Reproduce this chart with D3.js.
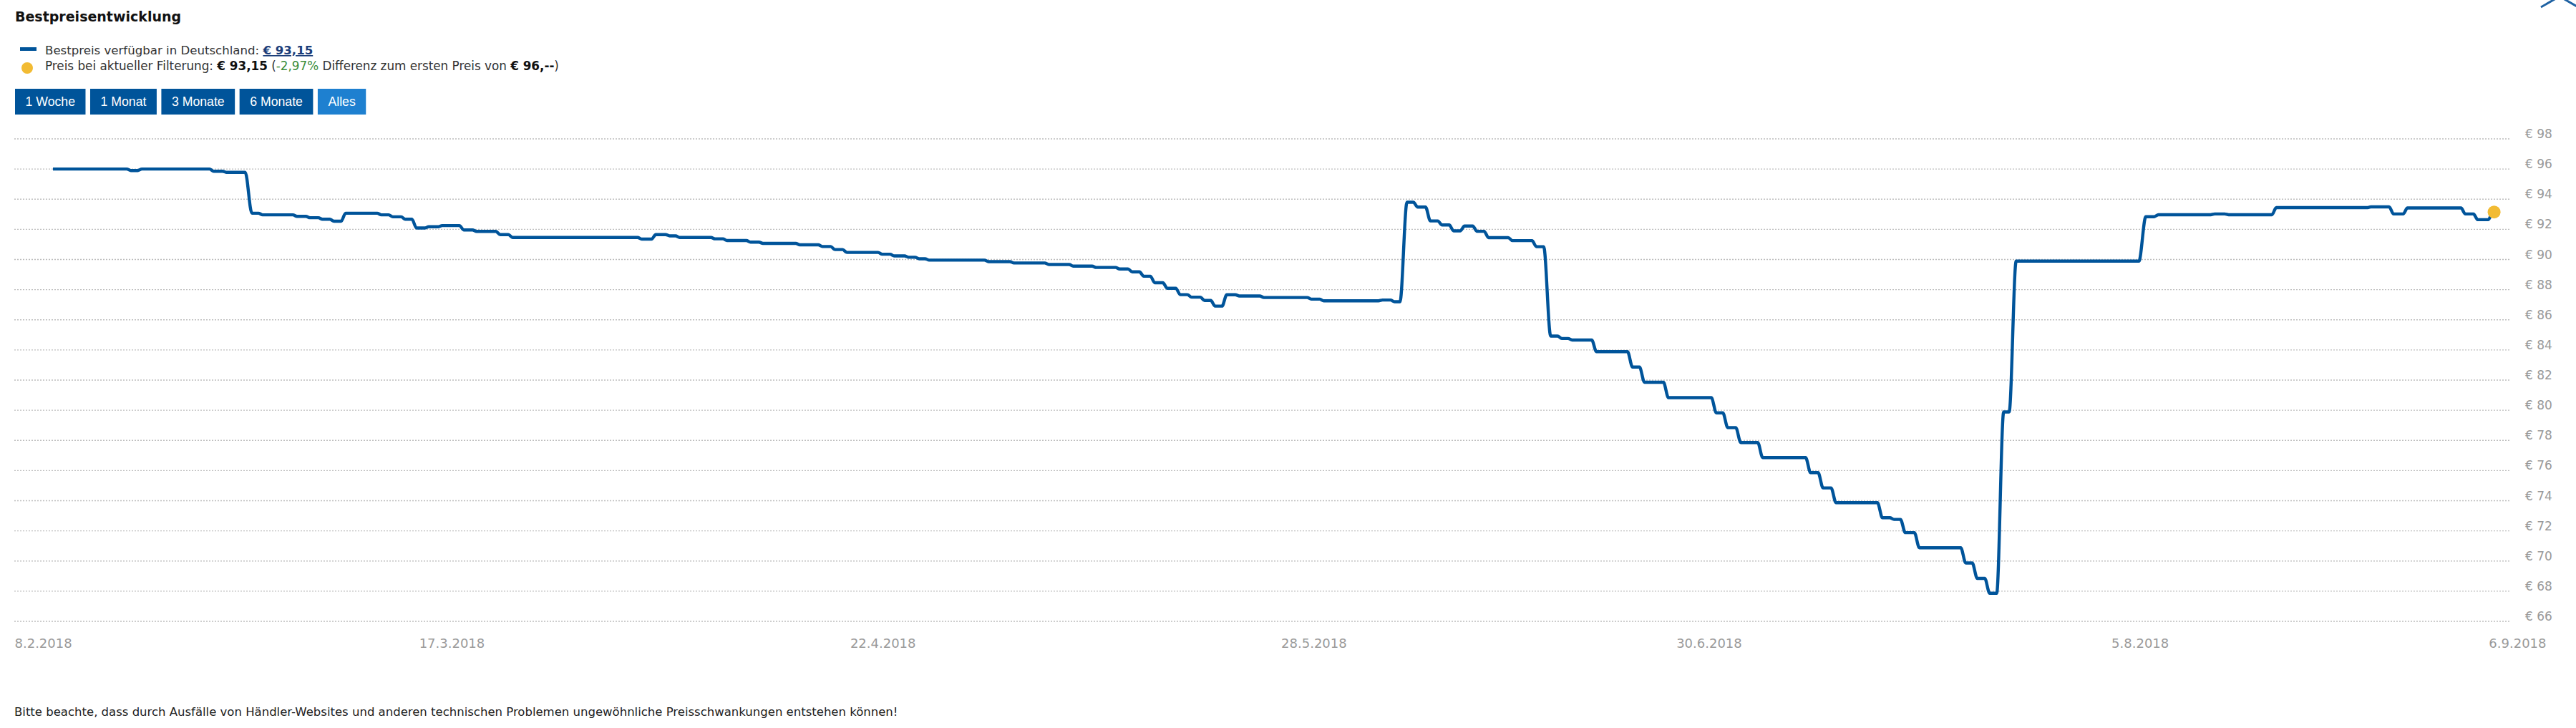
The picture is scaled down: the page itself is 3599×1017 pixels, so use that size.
<!DOCTYPE html>
<html><head><meta charset="utf-8">
<script src="https://cdn.jsdelivr.net/npm/d3@7"></script>
<style>
html,body{margin:0;padding:0;background:#fff;}
svg{display:block;}
</style></head>
<body>
<svg id="chart" width="3599" height="1017"></svg>
<script>
// ---------- data ----------
const titleText = "Bestpreisentwicklung";
const footerText = "Bitte beachte, dass durch Ausfälle von Händler-Websites und anderen technischen Problemen ungewöhnliche Preisschwankungen entstehen können!";
const buttonLabels = ["1 Woche", "1 Monat", "3 Monate", "6 Monate", "Alles"];
const activeButton = "Alles";
const yTicks = [66, 68, 70, 72, 74, 76, 78, 80, 82, 84, 86, 88, 90, 92, 94, 96, 98];
const xTicks = ["2018-02-08", "2018-03-17", "2018-04-22", "2018-05-28", "2018-06-30", "2018-08-05", "2018-09-06"];
const bestPrice = 93.15;
const filterPrice = 93.15;
const firstPrice = 96;
const diffPercent = -2.97;

const firstDate = "2018-02-11 17:00";
const lastDate = "2018-09-03 14:00";
// moments at which the best price changed
const changeDates = [
  "2018-02-18 01:00","2018-02-18 23:00","2018-02-24 23:00","2018-02-26 01:00","2018-02-28 01:00",
  "2018-03-01 01:00","2018-03-03 22:00","2018-03-05 00:00","2018-03-06 01:00","2018-03-07 00:00",
  "2018-03-07 23:00","2018-03-10 23:00","2018-03-11 22:00","2018-03-12 23:00","2018-03-13 21:00",
  "2018-03-14 22:00","2018-03-16 01:00","2018-03-17 20:00","2018-03-18 22:00","2018-03-20 21:00",
  "2018-03-21 22:00","2018-04-01 17:00","2018-04-02 21:00","2018-04-04 01:00","2018-04-04 21:00",
  "2018-04-07 20:00","2018-04-08 20:00","2018-04-10 19:00","2018-04-11 20:00","2018-04-14 22:00",
  "2018-04-16 19:00","2018-04-17 20:00","2018-04-18 20:00","2018-04-21 19:00","2018-04-22 19:00",
  "2018-04-24 00:00","2018-04-24 21:00","2018-04-25 17:00","2018-04-30 16:00","2018-05-02 19:00",
  "2018-05-05 17:00","2018-05-07 18:00","2018-05-09 16:00","2018-05-11 15:00","2018-05-12 16:00",
  "2018-05-13 15:00","2018-05-14 13:00","2018-05-15 14:00","2018-05-16 16:00","2018-05-17 15:00",
  "2018-05-18 17:00","2018-05-19 14:00","2018-05-20 13:00","2018-05-21 15:00","2018-05-23 16:00",
  "2018-05-27 15:00","2018-05-28 16:00","2018-06-02 14:00","2018-06-03 14:00","2018-06-04 12:00",
  "2018-06-05 12:00","2018-06-06 13:00","2018-06-07 13:00","2018-06-08 12:00","2018-06-09 10:00",
  "2018-06-10 11:00","2018-06-11 10:00","2018-06-13 10:00","2018-06-15 10:00","2018-06-16 12:00",
  "2018-06-17 13:00","2018-06-18 10:00","2018-06-20 10:00","2018-06-23 10:00","2018-06-24 10:00",
  "2018-06-26 10:00","2018-06-30 10:00","2018-07-01 09:00","2018-07-02 11:00","2018-07-04 07:00",
  "2018-07-08 07:00","2018-07-09 08:00","2018-07-10 10:00","2018-07-14 07:00","2018-07-15 07:00",
  "2018-07-16 05:00","2018-07-17 09:00","2018-07-21 06:00","2018-07-22 05:00","2018-07-23 06:00",
  "2018-07-24 08:00","2018-07-25 09:00","2018-08-05 05:00","2018-08-06 09:00","2018-08-11 02:00",
  "2018-08-12 06:00","2018-08-16 05:00","2018-08-24 03:00","2018-08-26 00:00","2018-08-27 04:00",
  "2018-09-01 00:00","2018-09-02 01:00","2018-09-03 07:00"
];
// best price held before / between / after the changes
const prices = [
  96.00, 95.90, 96.00, 95.85, 95.78, 93.07, 92.96, 92.86, 92.77, 92.67,
  92.54, 93.07, 92.96, 92.83, 92.67, 92.09, 92.17, 92.25, 91.96, 91.86,
  91.65, 91.46, 91.35, 91.65, 91.57, 91.46, 91.37, 91.26, 91.15, 91.07,
  90.97, 90.86, 90.66, 90.47, 90.35, 90.24, 90.15, 90.05, 89.96, 89.86,
  89.77, 89.67, 89.56, 89.47, 89.37, 89.18, 88.89, 88.46, 88.09, 87.67,
  87.50, 87.28, 86.91, 87.66, 87.58, 87.48, 87.37, 87.26, 87.31, 87.20,
  93.80, 93.48, 92.56, 92.29, 91.90, 92.22, 91.87, 91.45, 91.25, 90.85,
  84.92, 84.76, 84.66, 83.89, 82.87, 81.86, 80.84, 79.83, 78.85, 77.86,
  76.86, 75.86, 74.85, 73.87, 72.87, 72.76, 71.88, 70.88, 69.87, 68.85,
  67.86, 79.89, 89.89, 92.84, 92.97, 93.02, 92.97, 93.44, 93.49, 93.02,
  93.42, 93.02, 92.64, 93.15
];

// ---------- styles ----------
const BLUE = "#00549a";
const BTN_ACTIVE = "#1e80d0";
const YELLOW = "#f2bb33";
const TXT = "DejaVu Sans, Verdana, sans-serif";
const BTN_FONT = "Liberation Sans, Arial, sans-serif";

const svg = d3.select("#chart");
const parseT = d3.timeParse("%Y-%m-%d %H:%M");
const parseD = d3.timeParse("%Y-%m-%d");
const deMoney = v => "€ " + v.toFixed(2).replace(".", ",");

// scales
const xTickDates = xTicks.map(parseD);
const x = d3.scaleTime().domain([xTickDates[0], xTickDates[xTickDates.length - 1]]).range([12, 3525]);
const y = d3.scaleLinear().domain([66, 98]).range([868, 194]);

// ---------- header ----------
svg.append("text").attr("x", 21).attr("y", 30)
  .attr("font-family", TXT).attr("font-weight", "bold").attr("font-size", 19)
  .attr("fill", "#111").text(titleText);

svg.append("rect").attr("x", 28).attr("y", 66).attr("width", 23).attr("height", 5).attr("fill", BLUE);
const l1 = svg.append("text").attr("x", 63).attr("y", 76)
  .attr("font-family", TXT).attr("font-size", 16.6).attr("fill", "#333");
l1.append("tspan").text("Bestpreis verfügbar in Deutschland: ");
l1.append("tspan").attr("font-weight", "bold").attr("fill", "#1b3d79")
  .attr("text-decoration", "underline").text(deMoney(bestPrice));

svg.append("circle").attr("cx", 38).attr("cy", 95).attr("r", 8).attr("fill", YELLOW);
const l2 = svg.append("text").attr("x", 63).attr("y", 97.5)
  .attr("font-family", TXT).attr("font-size", 16.8).attr("fill", "#333");
l2.append("tspan").text("Preis bei aktueller Filterung: ");
l2.append("tspan").attr("font-weight", "bold").attr("fill", "#111").text(deMoney(filterPrice));
l2.append("tspan").text(" (");
l2.append("tspan").attr("fill", "#3a8d3a").text(diffPercent.toFixed(2).replace(".", ",") + "%");
l2.append("tspan").text(" Differenz zum ersten Preis von ");
l2.append("tspan").attr("font-weight", "bold").attr("fill", "#111").text("€ " + firstPrice + ",--");
l2.append("tspan").text(")");

// buttons
let bx = 21;
buttonLabels.forEach(lbl => {
  const g = svg.append("g");
  const t = g.append("text").attr("font-family", BTN_FONT).attr("font-size", 17.7)
    .attr("fill", "#fff").attr("y", 148).text(lbl);
  const w = t.node().getComputedTextLength() + 29;
  g.insert("rect", "text").attr("x", bx).attr("y", 124).attr("width", w).attr("height", 36)
    .attr("fill", lbl === activeButton ? BTN_ACTIVE : BLUE);
  t.attr("x", bx + w / 2).attr("text-anchor", "middle");
  bx += w + 6.5;
});

// collapse chevron (top right, cut off)
svg.append("path").attr("d", "M3550,10 L3576,-5 L3602,10")
  .attr("fill", "none").attr("stroke", "#1f62a3").attr("stroke-width", 3);

// ---------- grid ----------
svg.append("g").selectAll("line").data(yTicks).join("line")
  .attr("x1", 20).attr("x2", 3507)
  .attr("y1", d => y(d)).attr("y2", d => y(d))
  .attr("stroke", "#bdbdbd").attr("stroke-width", 1.3).attr("stroke-dasharray", "2,2");

// y axis labels
const yAxis = svg.append("g").attr("transform", "translate(3528,0)")
  .call(d3.axisRight(y).tickValues(yTicks).tickSize(0).tickPadding(0).tickFormat(d => "€ " + d));
yAxis.select(".domain").remove();
yAxis.selectAll("text").attr("dy", null).attr("y", -1.5).attr("x", 0)
  .attr("font-family", TXT).attr("font-size", 17).attr("fill", "#999");

// x axis labels
const xAxis = svg.append("g").attr("transform", "translate(0,905)")
  .call(d3.axisBottom(x).tickValues(xTickDates).tickSize(0).tickPadding(0)
    .tickFormat(d3.timeFormat("%-d.%-m.%Y")));
xAxis.select(".domain").remove();
xAxis.selectAll("text").attr("dy", null).attr("y", 0)
  .attr("font-family", TXT).attr("font-size", 18).attr("fill", "#9a9a9a");
xAxis.selectAll(".tick").each(function (d) {
  const t = d3.select(this).select("text");
  const w = t.node().getComputedTextLength();
  const cx = x(d);
  const c = Math.max(20 + w / 2, Math.min(3557 - w / 2, cx));
  t.attr("x", c - cx);
});

// ---------- price line ----------
const t0 = parseT(firstDate), t1 = parseT(lastDate);
const ch = changeDates.map(parseT);
const H = 3600e3;
const halfGap = dp => (4 + Math.min(3, Math.abs(dp))) * H;
const pts = [];
prices.forEach((p, i) => {
  const hb = i === 0 ? 0 : halfGap(p - prices[i - 1]);
  const ha = i === prices.length - 1 ? 0 : halfGap(prices[i + 1] - p);
  const s = i === 0 ? t0 : new Date(ch[i - 1].getTime() + hb);
  const e = i === prices.length - 1 ? t1 : new Date(ch[i].getTime() - ha);
  if (e > s) { pts.push([s, p]); pts.push([e, p]); }
  else pts.push([new Date((s.getTime() + e.getTime()) / 2), p]);
});
const line = d3.line().x(d => x(d[0])).y(d => y(d[1])).curve(d3.curveMonotoneX);
svg.append("path").datum(pts).attr("d", line)
  .attr("fill", "none").attr("stroke", BLUE).attr("stroke-width", 4.4)
  .attr("stroke-linejoin", "round").attr("stroke-linecap", "butt");

svg.append("circle").attr("cx", x(t1)).attr("cy", y(filterPrice)).attr("r", 9).attr("fill", YELLOW);

// ---------- footer ----------
svg.append("text").attr("x", 20).attr("y", 1000)
  .attr("font-family", TXT).attr("font-size", 16.5).attr("fill", "#222").text(footerText);
</script>
</body></html>
